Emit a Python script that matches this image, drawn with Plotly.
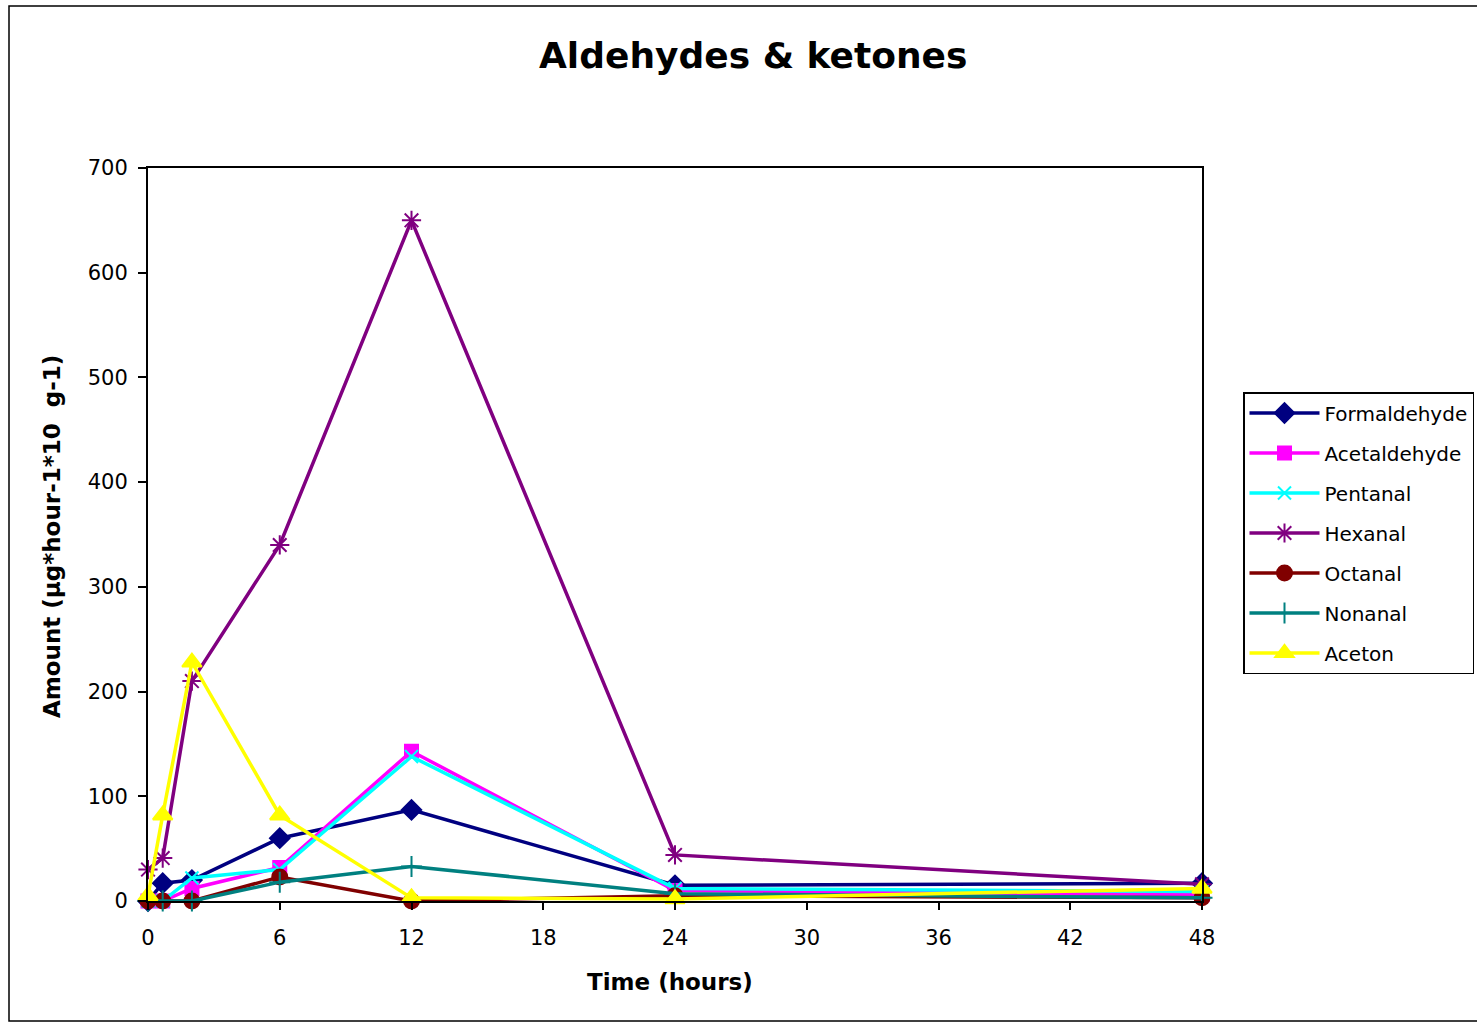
import plotly.graph_objects as go

# Sampling times (hours)
time_h = [0, 0.67, 2, 6, 12, 24, 48]

# Emission amounts (µg*hour-1*10 g-1)
formaldehyde = [0, 17, 20, 60, 87, 15, 17]
acetaldehyde = [0, 0, 12, 32, 143, 10, 6]
pentanal = [0, 0, 22, 30, 138, 12, 9]
hexanal = [30, 41, 210, 340, 650, 44, 16]
octanal = [0, 0, 0, 23, 0, 5, 3]
nonanal = [0, 0, 0, 18, 33, 7, 3]
aceton = [5, 82, 228, 82, 3, 2, 12]

x_ticks = [0, 6, 12, 18, 24, 30, 36, 42, 48]
y_ticks = [0, 100, 200, 300, 400, 500, 600, 700]

series = [
    ("Formaldehyde", formaldehyde, "#000080", "diamond", 15),
    ("Acetaldehyde", acetaldehyde, "#FF00FF", "square", 13),
    ("Pentanal", pentanal, "#00FFFF", "x-thin-open", 13),
    ("Hexanal", hexanal, "#800080", "asterisk-open", 16),
    ("Octanal", octanal, "#800000", "circle", 15),
    ("Nonanal", nonanal, "#008080", "cross-thin-open", 15),
    ("Aceton", aceton, "#FFFF00", "triangle-up", 17),
]

FONT = "DejaVu Sans, Arial, sans-serif"

fig = go.Figure()
for i, (name, vals, color, symbol, size) in enumerate(series):
    fig.add_trace(go.Scatter(
        x=time_h, y=vals, name=name, mode="lines+markers",
        legendgroup=f"g{i}",
        line=dict(color=color, width=3.5),
        marker=dict(color=color, symbol=symbol, size=size,
                    line=dict(color=color, width=2)),
        cliponaxis=False,
    ))

L, R, T, B = 148, 1202, 168, 901
W, H = 1477, 1025
pw, ph = R - L, B - T


def px_x(px):
    return (px - L) / pw


def px_y(py):
    return (B - py) / ph


fig.update_layout(
    width=W, height=H,
    margin=dict(l=L, r=W - R, t=T, b=H - B, autoexpand=False),
    paper_bgcolor="white", plot_bgcolor="white",
    font=dict(family=FONT, color="black"),
    showlegend=True,
    legend=dict(
        x=px_x(1243), y=px_y(392), xanchor="left", yanchor="top",
        bordercolor="black", borderwidth=1.5, bgcolor="white",
        font=dict(family=FONT, size=20, color="black"),
        tracegroupgap=11, itemwidth=70,
    ),
    xaxis=dict(
        range=[0, 48], tickvals=x_ticks, ticktext=[str(v) for v in x_ticks],
        showgrid=False, zeroline=False,
        showline=True, linecolor="black", linewidth=2, mirror=True,
        ticks="outside", ticklen=7, tickwidth=1.5, tickcolor="black",
        ticklabelstandoff=10,
        tickfont=dict(family=FONT, size=21, color="black"),
    ),
    yaxis=dict(
        range=[0, 700], tickvals=y_ticks, ticktext=[str(v) for v in y_ticks],
        showgrid=False, zeroline=False,
        showline=True, linecolor="black", linewidth=2, mirror=True,
        ticks="outside", ticklen=8, tickwidth=1.5, tickcolor="black",
        ticklabelstandoff=6,
        tickfont=dict(family=FONT, size=21, color="black"),
    ),
    annotations=[
        dict(text="<b>Aldehydes & ketones</b>", xref="paper", yref="paper",
             x=px_x(753), y=px_y(55), xanchor="center", yanchor="middle",
             showarrow=False, font=dict(family=FONT, size=36, color="black")),
        dict(text="<b>Time (hours)</b>", xref="paper", yref="paper",
             x=px_x(670), y=px_y(982), xanchor="center", yanchor="middle",
             showarrow=False, font=dict(family=FONT, size=23, color="black")),
        dict(text="<b>Amount (µg*hour-1*10\u00a0 g-1)</b>", xref="paper", yref="paper",
             x=px_x(52), y=px_y(537), xanchor="center", yanchor="middle",
             textangle=-90, showarrow=False,
             font=dict(family=FONT, size=23, color="black")),
    ],
    shapes=[
        dict(type="rect", xref="paper", yref="paper",
             x0=px_x(9), x1=px_x(1490), y0=px_y(1021), y1=px_y(6),
             line=dict(color="black", width=1.5), layer="below"),
    ],
)

fig.write_html("out.html")
